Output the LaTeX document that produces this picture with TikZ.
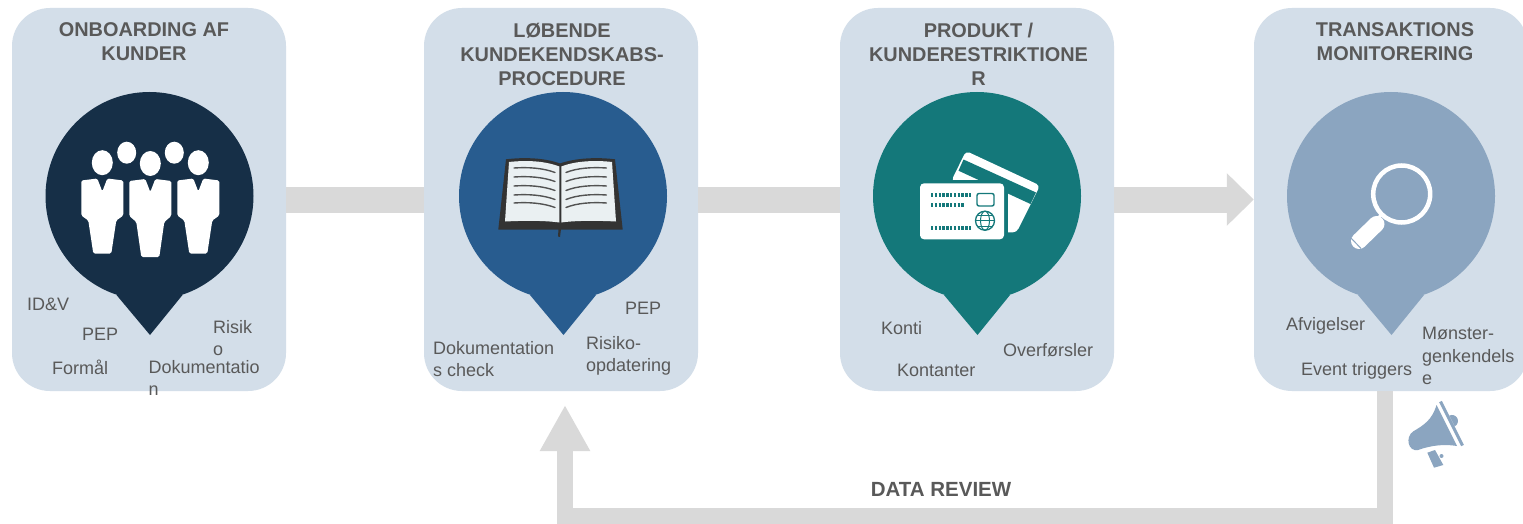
\documentclass[tikz,border=0pt]{standalone}
\usepackage{fontspec}
\setmainfont{Liberation Sans}
\usetikzlibrary{arrows.meta,calc}
\definecolor{panelc}{HTML}{D3DEE9}
\definecolor{barc}{HTML}{D9D9D9}
\definecolor{txtc}{HTML}{595959}
\definecolor{navyc}{HTML}{162F47}
\definecolor{bluec}{HTML}{285C8F}
\definecolor{tealc}{HTML}{14787A}
\definecolor{steelc}{HTML}{8BA5C0}
\definecolor{bookd}{HTML}{333333}
\definecolor{bookl}{HTML}{EAF0F2}
\tikzset{
  panel/.style={rectangle,rounded corners=38,fill=panelc,minimum width=274,minimum height=383,inner sep=0},
  disc/.style={circle,minimum size=208,inner sep=0},
  bar/.style={barc,line width=26},
  fbbar/.style={barc,line width=16},
  title/.style={align=center,anchor=north,text=txtc,inner sep=0,font=\fontsize{19.9}{24}\selectfont\bfseries},
  lbl/.style={align=left,anchor=north west,text=txtc,inner sep=0,font=\fontsize{18}{22.5}\selectfont},
  pline/.style={line width=1.4,draw=bookd!85,line cap=round},
}
\newcommand{\pinshape}[3]{%
  \node[disc,fill=#3] (#1) at (#2,196) {};
  \fill[#3] ($(#1)+(-33,99)$) -- ($(#1)+(0.5,139)$) -- ($(#1)+(33,99)$) -- cycle;
}
\newcommand{\person}[3]{% x, body top y, head y
  \begin{scope}[shift={(#1,#2)}]
    \fill[white,rounded corners=1.5] (-21,2) -- (-5,0) -- (0,13) -- (5,0) -- (21,2) -- (21,37) -- (14,42) -- (9,75) -- (-9,75) -- (-14,42) -- (-21,37) -- cycle;
  \end{scope}
  \fill[white] (#1,#3) ellipse [x radius=10.5,y radius=12.5];
}
\begin{document}
\begin{tikzpicture}[x=1pt,y=-1pt]
\path[use as bounding box,clip] (0,0) rectangle (1523,524);
\fill[white] (0,0) rectangle (1523,524);
% panels
\node[panel] (p1) at (149,199.5) {};
\node[panel] (p2) at (561,199.5) {};
\node[panel] (p3) at (977,199.5) {};
\node[panel] (p4) at (1391,199.5) {};
% connectors
\draw[bar] (p1.east) -- (p2.west);
\draw[bar] (p2.east) -- (p3.west);
\draw[bar,-{Triangle[length=27,width=51]}] (p3.east) -- (p4.west);
\coordinate (fbstart) at (1385,391);
\coordinate (fbend) at (565,405);
\draw[fbbar,-{Triangle[length=46,width=47]}] (fbstart) -- ++(0,125) -| (fbend);
% pins
\pinshape{c1}{149.5}{navyc}
\pinshape{c2}{563}{bluec}
\pinshape{c3}{977}{tealc}
\pinshape{c4}{1391}{steelc}
% people
\fill[white] (126.7,152.7) ellipse [x radius=9.5,y radius=11];
\fill[white] (174.3,152.7) ellipse [x radius=9.5,y radius=11];
\person{102.3}{178.5}{162.7}
\person{198.3}{178.5}{162.7}
\fill[white] (150.3,163.5) ellipse [x radius=10.5,y radius=12.5];
\fill[white,rounded corners=1.5] (129.3,181) -- (145.3,179) -- (150.3,192) -- (155.3,179) -- (171.3,181) -- (171.3,216) -- (164.3,222) -- (159.3,257) -- (141.3,257) -- (136.3,222) -- (129.3,216) -- cycle;
% book
\fill[bookd] (498.3,229.5) -- (506,159.3) .. controls (525,157) and (545,158) .. (560,163.5) .. controls (575,158) and (597,157) .. (615,159.3) -- (622.7,229.5) -- cycle;
\fill[bookd] (558.5,229) -- (561,229) -- (560,237) -- (558,236.5) -- cycle;
\fill[bookl] (509,162) .. controls (527,160) and (545,161) .. (559.3,166.5) -- (559.3,222.5) .. controls (545,220.5) and (525,220.5) .. (505,221.5) -- cycle;
\fill[bookl] (612,162) .. controls (595,160) and (575,161) .. (561.3,166.5) -- (561.3,222.5) .. controls (575,220.5) and (597,220.5) .. (616,221.5) -- cycle;
\foreach \yy in {168,177,186,195,203}{
  \draw[pline] (514,\yy) .. controls (528,\yy-1) and (543,\yy) .. (555,\yy+4.5);
  \draw[pline] (606.5,\yy) .. controls (592,\yy-1) and (577,\yy) .. (566,\yy+4.5);
}
% cards
\fill[white,rounded corners=4] (966,151) -- (1040,185.5) -- (1016.5,232.5) -- (990,232) -- (951.5,180.5) -- cycle;
\fill[tealc] (963.5,159.5) -- (1036,192.5) -- (1030.5,204) -- (958.5,170.7) -- cycle;
\fill[tealc] (912,180) rectangle (1007.5,245);
\fill[white,rounded corners=4] (920,183.3) rectangle (1004,239.3);
\foreach \yy/\xe in {194.5/971.7,204.5/963.5,227.5/971.7}{
  \draw[tealc,line width=4,dash pattern=on 2.4 off 1.4] (931,\yy) -- (\xe,\yy);
}
\draw[tealc,line width=1.4,rounded corners=2] (977,193.5) rectangle (994,206);
\draw[tealc,line width=1.3] (985,220.7) circle [radius=9.5];
\draw[tealc,line width=1] (985,220.7) ellipse [x radius=4.5,y radius=9.5];
\draw[tealc,line width=1] (975.5,220.7) -- (994.5,220.7) (977,215.5) -- (993,215.5) (977,226) -- (993,226);
% magnifier
\draw[white,line width=4.5] (1401.7,194) circle [radius=28.5];
\draw[white,line width=3] (1378.5,217.5) -- (1383,214);
\draw[white,line width=16,line cap=round] (1376.5,224) -- (1359,241);
\draw[steelc,line width=1] (1351,238) -- (1361,248.5);
% megaphone
\fill[steelc] (1436.5,405) .. controls (1432,420) and (1424,425) .. (1413,431.5) .. controls (1405,437) and (1408,452) .. (1418,450) .. controls (1432,445) and (1445,444) .. (1457,446) -- cycle;
\draw[steelc,line width=3] (1440.5,401.5) -- (1462.5,445.5);
\fill[steelc] (1449.3,415.6) arc [start angle=-116.6,end angle=63.4,radius=6] -- cycle;
\fill[steelc] (1427.3,452.7) -- (1435,450) -- (1443.3,465) -- (1434,467.7) -- cycle;
\fill[steelc] (1441.5,456) circle [radius=2];
% titles
\node[title] (t1) at (144,22.5) {ONBOARDING AF\\KUNDER};
\node[title] (t2) at (562,22.5) {LØBENDE\\KUNDEKENDSKABS-\\PROCEDURE};
\node[title] (t3) at (978.5,22.5) {PRODUKT /\\KUNDERESTRIKTIONE\\R};
\node[title] (t4) at (1395,22.5) {TRANSAKTIONS\\MONITORERING};
% labels
\node[lbl] (a1) at (27,298) {ID\&V};
\node[lbl] (a2) at (82,328) {PEP};
\node[lbl] (a3) at (213,320) {Risik\\o};
\node[lbl] (a4) at (52,360) {Formål};
\node[lbl] (a5) at (148.5,360) {Dokumentatio\\n};
\node[lbl] (b1) at (625,302) {PEP};
\node[lbl] (b2) at (433,341) {Dokumentation\\s check};
\node[lbl] (b3) at (586,336) {Risiko-\\opdatering};
\node[lbl] (d1) at (881,321) {Konti};
\node[lbl] (d2) at (1003,343) {Overførsler};
\node[lbl] (d3) at (897,364) {Kontanter};
\node[lbl] (e1) at (1286,317) {Afvigelser};
\node[lbl] (e2) at (1301,362) {Event triggers};
\node[lbl] (e3) at (1422,327) {Mønster-\\genkendels\\e};
\node[title,font=\fontsize{20.5}{24}\selectfont\bfseries] (fbl) at (941,482.5) {DATA REVIEW};
\end{tikzpicture}
\end{document}
